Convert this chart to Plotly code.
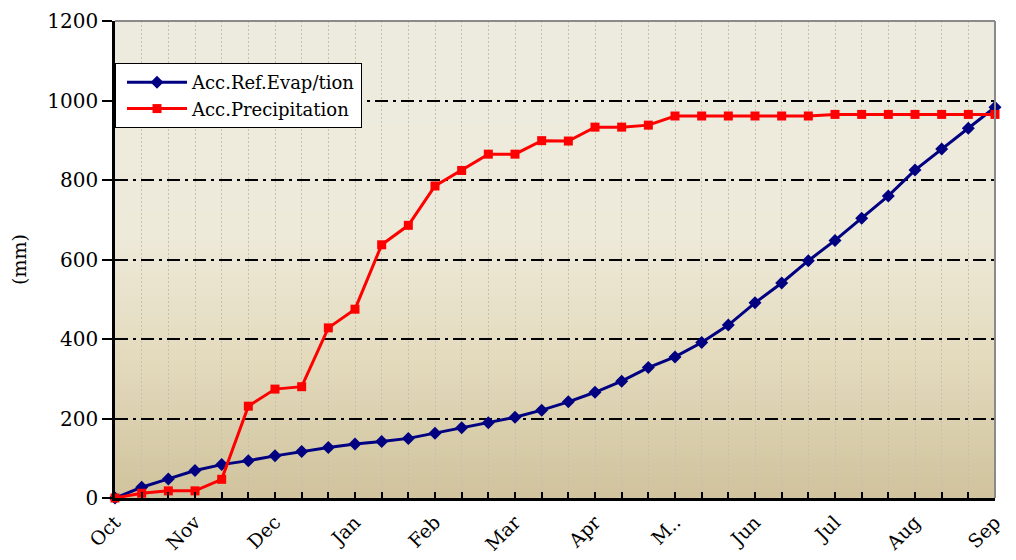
import plotly.graph_objects as go

# dekads from 1 Oct to 1 Sep
dekads = [
    "Oct-1", "Oct-2", "Oct-3", "Nov-1", "Nov-2", "Nov-3", "Dec-1", "Dec-2", "Dec-3",
    "Jan-1", "Jan-2", "Jan-3", "Feb-1", "Feb-2", "Feb-3", "Mar-1", "Mar-2", "Mar-3",
    "Apr-1", "Apr-2", "Apr-3", "May-1", "May-2", "May-3", "Jun-1", "Jun-2", "Jun-3",
    "Jul-1", "Jul-2", "Jul-3", "Aug-1", "Aug-2", "Aug-3", "Sep-1",
]
tick_text = [
    "Oct", "", "", "Nov", "", "", "Dec", "", "", "Jan", "", "", "Feb", "", "",
    "Mar", "", "", "Apr", "", "", "M..", "", "", "Jun", "", "", "Jul", "", "",
    "Aug", "", "", "Sep",
]
acc_evap = [0, 27, 48, 69, 84, 94, 106, 117, 127, 136, 142, 150, 163, 177, 189, 203, 221,
            242, 266, 294, 328, 355, 391, 435, 491, 541, 597, 648, 704, 760, 825, 878, 930, 983]
acc_precip = [0, 12, 18, 18, 47, 231, 274, 280, 428, 475, 637, 686, 785, 824, 865, 865, 899,
              898, 933, 933, 938, 961, 961, 961, 961, 961, 961, 965, 965, 965, 965, 965, 965, 965]

FONT = "DejaVu Serif"

fig = go.Figure()
fig.add_trace(go.Scatter(
    x=dekads, y=acc_evap, name="Acc.Ref.Evap/tion", mode="lines+markers",
    line=dict(color="#000080", width=3), marker=dict(symbol="diamond", size=10, color="#000080"),
    cliponaxis=False,
))
fig.add_trace(go.Scatter(
    x=dekads, y=acc_precip, name="Acc.Precipitation", mode="lines+markers",
    line=dict(color="#ff0000", width=3), marker=dict(symbol="square", size=9, color="#ff0000"),
    cliponaxis=False,
))


# parchment-like vertical gradient behind the plot area, built from thin strips
def _mix(c0, c1, t):
    return "rgb(%d,%d,%d)" % tuple(round(a + (b - a) * t) for a, b in zip(c0, c1))


stops = [(0.0, (237, 235, 223)), (0.45, (238, 234, 218)), (0.7, (228, 219, 190)), (1.0, (208, 195, 157))]
n = 100
for k in range(n):
    f = (k + 0.5) / n  # fraction from the top
    for (f0, c0), (f1, c1) in zip(stops[:-1], stops[1:]):
        if f0 <= f <= f1:
            col = _mix(c0, c1, (f - f0) / (f1 - f0))
            break
    fig.add_shape(type="rect", xref="x domain", yref="y domain", x0=0, x1=1,
                  y0=1 - (k + 1) / n, y1=1 - k / n + 0.002,
                  fillcolor=col, line_width=0, layer="below")

# grey top and right frame
fig.add_shape(type="line", xref="x domain", yref="y domain", x0=0, x1=1, y0=1, y1=1,
              line=dict(color="#8a8a8a", width=2))
fig.add_shape(type="line", xref="x domain", yref="y domain", x0=1, x1=1, y0=0, y1=1,
              line=dict(color="#8a8a8a", width=2))

fig.update_xaxes(
    type="category", range=[0, 33], tickvals=dekads, ticktext=tick_text, tickangle=-45,
    showline=True, linecolor="black", linewidth=2.5,
    ticks="inside", ticklen=6, tickcolor="black", tickwidth=1.5,
    showgrid=True, gridcolor="#c6c0ae", griddash="2px,2px", gridwidth=1,
    tickfont=dict(family=FONT, size=19, color="black"), ticklabelstandoff=3,
    automargin=False,
)
fig.update_yaxes(
    range=[0, 1200], dtick=200, showline=True, linecolor="black", linewidth=2.5,
    ticks="outside", ticklen=10, tickcolor="black", tickwidth=1.5,
    showgrid=True, gridcolor="black", griddash="13px,5px,3px,5px", gridwidth=1.5,
    zeroline=False, tickfont=dict(family=FONT, size=20, color="black"),
    title=dict(text="(mm)", font=dict(family=FONT, size=19, color="black"), standoff=18),
    automargin=False,
)
# page body adds an 8px offset, so the figure is 8px smaller and margins shifted
fig.update_layout(
    width=1008, height=552,
    margin=dict(l=107, r=21, t=13, b=62),
    paper_bgcolor="white", plot_bgcolor="rgba(0,0,0,0)",
    font=dict(family=FONT, color="black"),
    legend=dict(x=0, xanchor="left", y=0.912, yanchor="top", bgcolor="white",
                bordercolor="black", borderwidth=1, itemwidth=60, indentation=6,
                font=dict(family=FONT, size=18, color="black")),
)
fig.write_html("out.html")
